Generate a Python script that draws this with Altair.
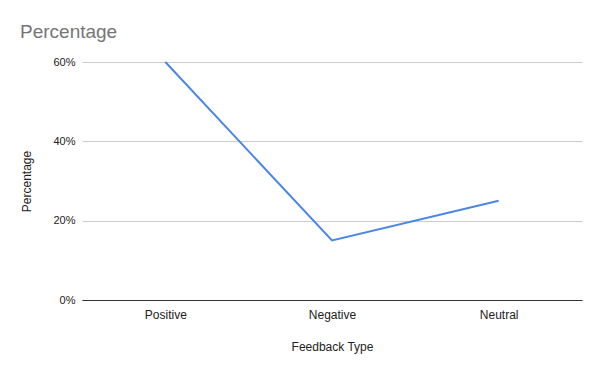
import altair as alt
import pandas as pd

categories = ["Positive", "Negative", "Neutral"]
values = [0.60, 0.15, 0.25]

df = pd.DataFrame({"Feedback Type": categories, "Percentage": values})

FONT = "Liberation Sans"

chart = alt.Chart(df).mark_line(color="#4a86e8", strokeWidth=2).encode(
    x=alt.X("Feedback Type:N", sort=categories,
            scale=alt.Scale(padding=0.5),
            axis=alt.Axis(labelAngle=0, ticks=False, domain=True, domainColor="#333333",
                          grid=False, labelPadding=9, titlePadding=21,
                          labelFontSize=12, titleFontSize=12,
                          labelColor="#222222", titleColor="#222222",
                          titleFontWeight="normal")),
    y=alt.Y("Percentage:Q", scale=alt.Scale(domain=[0, 0.6], nice=False),
            axis=alt.Axis(format=".0%", values=[0, 0.2, 0.4, 0.6], ticks=False, domain=False,
                          gridColor="#cccccc", labelPadding=7, titlePadding=19,
                          labelFontSize=11, titleFontSize=12,
                          labelColor="#222222", titleColor="#222222",
                          titleFontWeight="normal")),
).properties(
    width=500,
    height=238,
    padding={"left": 74, "top": 54, "right": 10, "bottom": 55},
    autosize=alt.AutoSizeParams(type="none"),
    title=alt.TitleParams("Percentage", anchor="start", frame="group", dx=-62, offset=14,
                          fontSize=19, color="#757575", fontWeight="normal", font=FONT),
).configure(font=FONT).configure_view(stroke=None)

chart.save("out.html", embed_options={"renderer": "svg", "actions": False})
